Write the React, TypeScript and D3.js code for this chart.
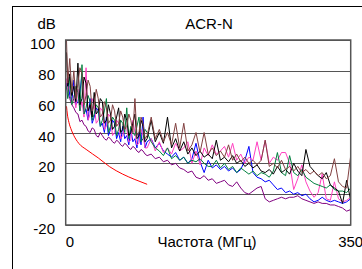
import * as d3 from "d3";

// frequency points (MHz)
const freqs = [
  1, 2.5, 5, 7.5, 10, 12.5, 15, 17.5, 20, 22.5, 25, 27.5, 30, 32.5, 35, 37.5, 40,
  42.5, 45, 47.5, 50, 52.5, 55, 57.5, 60, 62.5, 65, 67.5, 70, 72.5, 75, 77.5, 80,
  82.5, 85, 87.5, 90, 92.5, 95, 97.5, 100,
  105, 110, 115, 120, 125, 130, 135, 140, 145, 150, 155, 160, 165, 170, 175,
  180, 185, 190, 195, 200, 205, 210, 215, 220, 225, 230, 235, 240, 245, 250, 255,
  260, 265, 270, 275, 280, 285, 290, 295, 300, 305, 310, 315, 320, 325, 330, 335,
  340, 345, 350,
];

const purple = [
  72, 66, 62, 58, 56, 53, 52, 47, 48, 45, 44, 41, 40, 43, 42, 38, 37, 40, 38, 36,
  35, 37, 36, 34, 33, 35, 34, 32, 31, 33, 32, 30, 29, 31, 30, 28, 27, 29, 28, 26, 25,
  26, 23, 24, 21, 22, 19, 20, 17, 16, 14, 15, 11, 10, 12, 9,
  10, 7, 8, 9, 6, 5, 8, 4, 1, 0, 2, 4, 5, -3, -5, -4,
  -3, -2, -3, -2, -2, -1, -3, -4, -5, -6, -5, -6, -6, -7, -7, -8,
  -9, -11, -10,
];

const blue = [
  68, 76, 64, 60, 74, 58, 60, 66, 78, 52, 55, 48, 62, 46, 50, 56, 54, 44, 46, 40,
  50, 38, 42, 48, 46, 36, 40, 34, 44, 36, 38, 32, 42, 34, 36, 30, 40, 32, 50, 30, 34,
  36, 30, 33, 28, 26, 24, 27, 22, 24, 20, 23, 33, 21, 14, 22,
  17, 19, 16, 18, 15, 17, 14, 16, 22, 31, 14, 11, 10, 8, 9, 6,
  3, 4, 1, 2, 0, 1, -1, 0, -3, -5, -4, -2, -4, -5, -4, -5,
  -6, -5, -3,
];

const pink = [
  75, 66, 70, 58, 64, 56, 68, 54, 60, 50, 82, 48, 52, 62, 58, 46, 48, 56, 54, 42,
  44, 52, 50, 38, 40, 48, 46, 36, 38, 44, 42, 34, 35, 48, 40, 32, 33, 42, 38, 30, 30,
  36, 28, 34, 27, 30, 26, 33, 28, 30, 34, 20, 28, 19, 30, 25,
  32, 26, 28, 31, 24, 33, 22, 26, 20, 24, 22, 34, 22, 35, 20, 24,
  22, 27, 27, 20, 3, 10, 19, 8, 2, -2, 1, 13, -3, -4, 8, -3,
  -5, -4, -2,
];

const green = [
  70, 62, 76, 58, 62, 70, 66, 54, 84, 52, 56, 64, 60, 48, 52, 58, 56, 44, 48, 54,
  62, 40, 44, 50, 48, 38, 42, 48, 46, 40, 56, 36, 44, 40, 38, 44, 50, 34, 36, 42, 40,
  34, 30, 28, 25, 30, 23, 25, 22, 24, 20, 22, 21, 23, 20, 18,
  18, 22, 17, 20, 16, 18, 14, 17, 15, 13, 15, 12, 14, 13, 11, 15,
  27, 14, 12, 25, 14, 12, 16, 11, 9, 7, 6, 5, 4, 6, 3, 2,
  2, 1, 4,
];

const black = [
  92, 70, 78, 64, 70, 60, 85, 58, 62, 76, 72, 54, 58, 50, 66, 52, 54, 62, 60, 46,
  48, 58, 52, 42, 44, 50, 56, 40, 42, 52, 48, 38, 40, 46, 52, 36, 38, 48, 44, 34, 36,
  48, 34, 40, 33, 50, 30, 36, 28, 34, 26, 30, 25, 28, 24, 26,
  23, 35, 22, 24, 21, 25, 20, 22, 18, 20, 17, 19, 15, 14, 16, 13,
  18, 14, 16, 13, 20, 15, 12, 29, 18, 15, 12, 10, 14, 6, 4, 2,
  -6, 9, -4,
];

const brown = [
  100, 72, 88, 66, 80, 62, 72, 82, 78, 58, 64, 74, 70, 54, 58, 68, 62, 50, 52, 60,
  56, 46, 48, 58, 54, 44, 46, 54, 50, 42, 44, 52, 48, 40, 62, 38, 40, 50, 46, 36, 38,
  50, 36, 42, 34, 40, 32, 46, 30, 46, 28, 32, 40, 27, 40, 26,
  30, 25, 28, 24, 32, 22, 26, 21, 24, 20, 22, 19, 22, 35, 18, 20,
  17, 22, 16, 18, 15, 18, 14, 16, 13, 15, 12, 14, 10, 12, 23, 8,
  5, 4, 25,
];

// limit line
const limitFreqs = [1, 2, 4, 7, 10, 16, 26, 40, 54, 70, 85, 100];
const limitValues = [57, 52, 46.5, 41.6, 38, 33, 28.7, 23.5, 17.8, 13, 9.5, 6.4];

const yTicks = [100, 80, 60, 40, 20, 0, -20];

const seriesList = [
  { name: "purple", values: purple, color: "#800080" },
  { name: "blue", values: blue, color: "#0000ff" },
  { name: "pink", values: pink, color: "#ff40c0" },
  { name: "green", values: green, color: "#00803f" },
  { name: "black", values: black, color: "#000000" },
  { name: "brown", values: brown, color: "#804040" },
];

export default function App() {
  const width = 362;
  const height = 269;
  const left = 65.7;
  const right = 350.7;
  const top = 40;
  const bottom = 225;

  const x = d3.scaleLinear().domain([0, 350]).range([left, right]);
  const y = d3.scaleLinear().domain([-20, 100]).range([bottom, top]);

  const line = d3
    .line<number>()
    .x((_, i) => x(freqs[i]))
    .y((d) => y(d));

  const limitLine = d3
    .line<number>()
    .x((_, i) => x(limitFreqs[i]))
    .y((d) => y(d))
    .curve(d3.curveMonotoneX);

  const font = "Arial, 'Liberation Sans', sans-serif";

  return (
    <svg
      width={width}
      height={height}
      style={{ position: "absolute", left: 0, top: 0, background: "#fff" }}
      fontFamily={font}
    >
      {/* outer frame */}
      <rect x={12.5} y={6.5} width={400} height={300} fill="none" stroke="#000" strokeWidth={1} />

      <defs>
        <clipPath id="plot">
          <rect x={left} y={top} width={right - left} height={bottom - top} />
        </clipPath>
      </defs>

      {/* grid */}
      {yTicks.map((t) => (
        <line
          key={t}
          x1={left}
          x2={right}
          y1={Math.round(y(t)) + 0.5}
          y2={Math.round(y(t)) + 0.5}
          stroke="#555"
          strokeWidth={1}
        />
      ))}

      <g clipPath="url(#plot)">
        {seriesList.map((s) => (
          <path key={s.name} d={line(s.values) ?? ""} fill="none" stroke={s.color} strokeWidth={1} />
        ))}
        <path d={limitLine(limitValues) ?? ""} fill="none" stroke="#ff0000" strokeWidth={1} />
      </g>

      {/* plot border */}
      <rect x={left} y={top} width={right - left} height={bottom - top} fill="none" stroke="#555" strokeWidth={1.5} />

      {/* y tick labels */}
      {yTicks.map((t) => (
        <text key={t} x={55} y={y(t) + 9} textAnchor="end" fontSize={15} fill="#000">
          {t}
        </text>
      ))}

      <text x={37.5} y={29} fontSize={15} fill="#000">
        dB
      </text>
      <text x={209} y={29} textAnchor="middle" fontSize={15} fill="#000">
        ACR-N
      </text>

      {/* x labels */}
      <text x={x(0)} y={247} fontSize={15} fill="#000">
        0
      </text>
      <text x={x(350)} y={247} textAnchor="middle" fontSize={15} fill="#000">
        350
      </text>
      <text x={207} y={247} textAnchor="middle" fontSize={15} fill="#000">
        Частота (МГц)
      </text>
    </svg>
  );
}
